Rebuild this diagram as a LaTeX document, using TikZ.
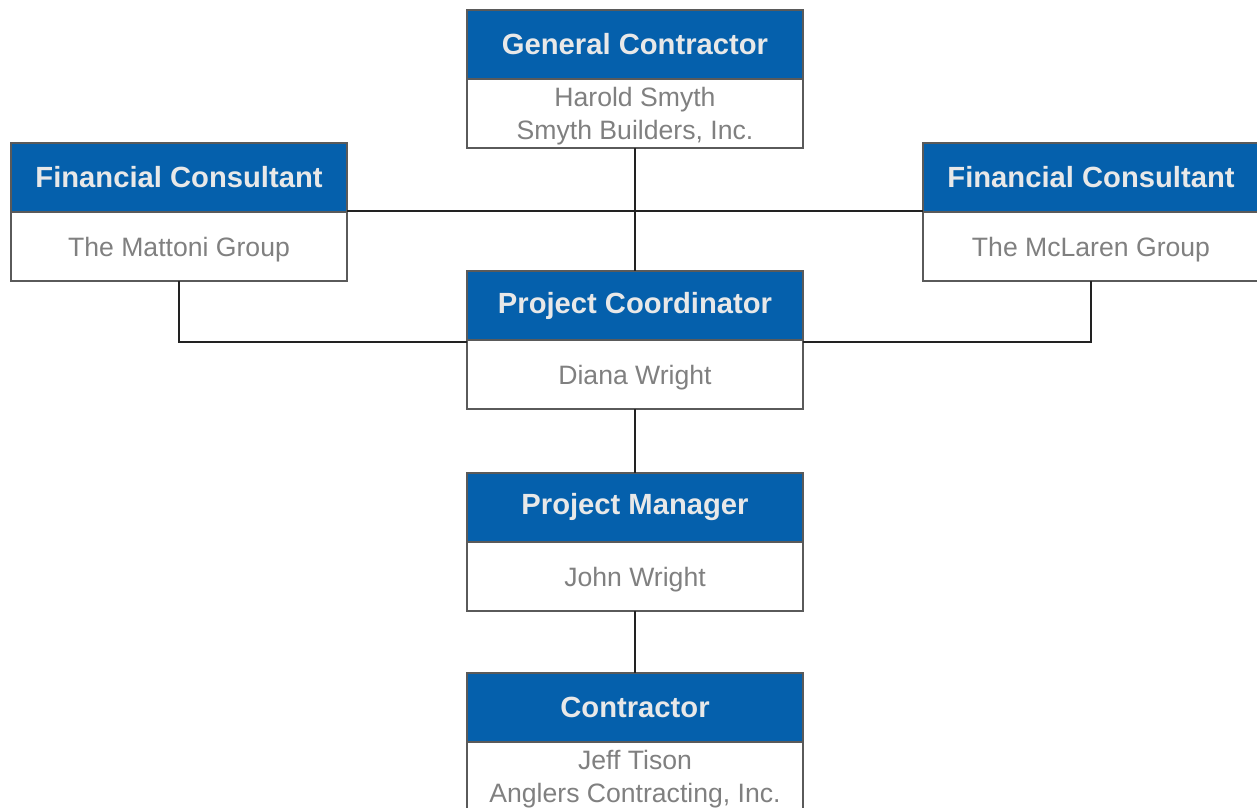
\documentclass[tikz,border=0pt]{standalone}
\usepackage{fontspec}
\setmainfont{Liberation Sans}
\definecolor{headblue}{HTML}{0560AC}
\definecolor{headtext}{HTML}{E8E8E8}
\definecolor{bodytext}{HTML}{808080}
\definecolor{framegray}{HTML}{5A5A5A}
\definecolor{linkdark}{HTML}{222222}
\begin{document}
\begin{tikzpicture}[x=1pt,y=-1pt,
  head/.style={draw=framegray,line width=1.2pt,fill=headblue,text=headtext,
    font=\fontsize{29.2}{33}\selectfont\bfseries,minimum width=336pt,minimum height=69pt,
    anchor=north west,inner sep=0pt,outer sep=0pt},
  body/.style={draw=framegray,line width=1.2pt,fill=white,text=bodytext,
    font=\fontsize{26.6}{32.5}\selectfont,minimum width=336pt,minimum height=69pt,
    anchor=north,inner sep=0pt,outer sep=0pt,align=center,text depth=0pt},
  link/.style={draw=linkdark,line width=2pt}]
\useasboundingbox (0,0) rectangle (1257,807);
% General Contractor
\node[head] (gch) at (467,10) {General Contractor};
\node[body] (gcb) at (gch.south) {Harold Smyth\\Smyth Builders, Inc.};
% Financial consultants
\node[head] (flh) at (11,143) {Financial Consultant};
\node[body] (flb) at (flh.south) {The Mattoni Group};
\node[head] (frh) at (923,143) {Financial Consultant};
\node[body] (frb) at (frh.south) {The McLaren Group};
% Project Coordinator
\node[head] (pch) at (467,271) {Project Coordinator};
\node[body] (pcb) at (pch.south) {Diana Wright};
% Project Manager
\node[head] (pmh) at (467,473) {Project Manager};
\node[body] (pmb) at (pmh.south) {John Wright};
% Contractor
\node[head] (cth) at (467,673) {Contractor};
\node[body] (ctb) at (cth.south) {Jeff Tison\\Anglers Contracting, Inc.};
% links
\draw[link] (gcb.south) -- (pch.north);
\draw[link] ([yshift=1pt]flh.south east) -- ([yshift=1pt]frh.south west);
\draw[link] (flb.south) |- ([yshift=-2pt]pcb.north west);
\draw[link] (frb.south) |- ([yshift=-2pt]pcb.north east);
\draw[link] (pcb.south) -- (pmh.north);
\draw[link] (pmb.south) -- (cth.north);
\end{tikzpicture}
\end{document}
